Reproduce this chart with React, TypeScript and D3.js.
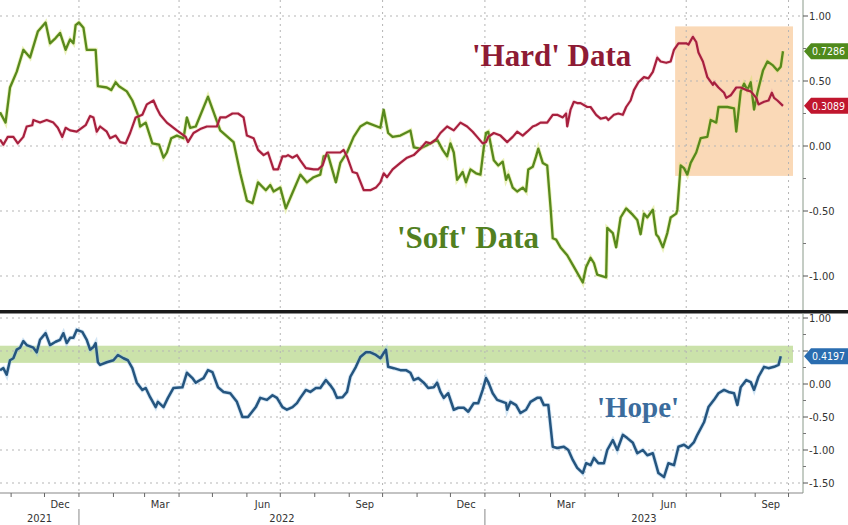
import React from "react";
import * as d3 from "d3";

// ---- data (day offset from 2021-10-22, value) ----
const startDate = new Date(2021, 9, 22);
const endDate = new Date(2023, 9, 14);

const softData: [number, number][] = [
  [0, 0.26], [5, 0.18], [9, 0.45], [15, 0.57], [21, 0.74], [27, 0.68], [34, 0.88], [41, 0.95],
  [45, 0.79], [50, 0.83], [54, 0.87], [59, 0.74], [63, 0.82], [66, 0.79], [68, 0.93], [71, 0.95],
  [75, 0.91], [78, 0.74], [86, 0.74], [88, 0.46], [96, 0.45], [100, 0.43], [104, 0.49], [107, 0.46],
  [114, 0.42], [119, 0.35], [124, 0.24], [126, 0.15], [131, 0.18], [137, 0.02], [143, 0.01], [147, -0.09],
  [150, -0.05], [154, 0.06], [159, 0.08], [165, 0.06], [168, 0.22], [171, 0.14], [176, 0.15], [187, 0.38],
  [198, 0.12], [210, 0.03], [216, -0.21], [222, -0.42], [227, -0.44], [232, -0.28], [239, -0.34], [243, -0.30],
  [246, -0.35], [252, -0.32], [257, -0.48], [263, -0.36], [270, -0.22], [276, -0.28], [282, -0.24], [288, -0.22],
  [291, -0.08], [295, -0.07], [302, -0.28], [306, -0.13], [312, -0.05], [318, 0.07], [324, 0.15], [330, 0.18],
  [342, 0.14], [345, 0.28], [349, 0.10], [353, 0.07], [360, 0.08], [369, 0.12], [372, -0.01], [378, -0.02],
  [387, 0.02], [393, 0.05], [398, -0.03], [402, -0.08], [405, 0.02], [408, -0.05], [411, -0.26], [416, -0.20],
  [419, -0.28], [423, -0.18], [428, -0.21], [432, -0.22], [435, -0.01], [437, 0.10], [439, 0.11], [444, -0.11],
  [448, -0.15], [452, -0.12], [455, -0.26], [457, -0.22], [461, -0.32], [465, -0.35], [470, -0.32], [473, -0.35],
  [475, -0.18], [479, -0.16], [482, -0.08], [484, -0.02], [488, -0.13], [492, -0.15], [495, -0.47], [497, -0.71],
  [500, -0.72], [504, -0.78], [510, -0.84], [516, -0.93], [524, -1.05], [527, -0.93], [531, -0.86], [534, -0.90],
  [537, -0.99], [545, -1.01], [546, -0.63], [551, -0.67], [554, -0.78], [558, -0.55], [563, -0.48], [569, -0.53],
  [573, -0.57], [576, -0.68], [579, -0.52], [582, -0.55], [587, -0.49], [590, -0.68], [592, -0.70], [596, -0.78],
  [600, -0.67], [603, -0.55], [608, -0.52], [609, -0.49], [612, -0.15], [615, -0.17], [618, -0.22], [621, -0.13],
  [626, -0.05], [630, 0.06], [636, 0.07], [639, 0.20], [644, 0.18], [646, 0.30], [654, 0.30], [660, 0.29],
  [662, 0.11], [666, 0.42], [669, 0.48], [672, 0.43], [675, 0.49], [678, 0.28], [681, 0.41], [686, 0.58],
  [690, 0.65], [695, 0.62], [699, 0.58], [702, 0.61], [704, 0.7286],
];

const hardData: [number, number][] = [
  [0, 0.05], [3, 0.01], [7, 0.07], [12, 0.07], [16, 0.02], [21, 0.07], [24, 0.15], [29, 0.16],
  [30, 0.20], [36, 0.18], [42, 0.20], [48, 0.18], [52, 0.14], [56, 0.07], [59, 0.14], [63, 0.12],
  [69, 0.11], [77, 0.16], [81, 0.23], [84, 0.22], [87, 0.11], [90, 0.15], [96, 0.11], [99, 0.06],
  [104, 0.08], [108, 0.03], [113, 0.02], [117, 0.10], [122, 0.22], [128, 0.24], [132, 0.32], [138, 0.35],
  [141, 0.29], [144, 0.24], [150, 0.18], [159, 0.12], [167, 0.07], [169, 0.03], [174, 0.10], [180, 0.13],
  [186, 0.15], [195, 0.15], [198, 0.22], [203, 0.22], [209, 0.25], [214, 0.25], [219, 0.22], [222, 0.08],
  [228, 0.06], [232, -0.03], [237, -0.07], [241, -0.05], [246, -0.18], [250, -0.18], [254, -0.08], [257, -0.08],
  [259, -0.07], [263, -0.09], [267, -0.07], [270, -0.11], [275, -0.17], [282, -0.18], [286, -0.18], [290, -0.15],
  [294, -0.05], [300, -0.05], [306, -0.05], [309, -0.03], [312, -0.08], [317, -0.20], [321, -0.21], [327, -0.34],
  [333, -0.34], [338, -0.32], [342, -0.28], [345, -0.21], [348, -0.24], [353, -0.18], [360, -0.13], [366, -0.09],
  [372, -0.07], [378, -0.02], [383, 0.03], [387, 0.02], [392, 0.05], [396, 0.10], [402, 0.15], [408, 0.12],
  [414, 0.18], [420, 0.15], [425, 0.11], [429, 0.07], [434, 0.02], [437, 0.03], [439, 0.07], [444, 0.10],
  [450, 0.08], [456, 0.03], [461, 0.07], [465, 0.11], [470, 0.08], [474, 0.11], [479, 0.15], [482, 0.16],
  [486, 0.18], [492, 0.18], [497, 0.24], [501, 0.24], [506, 0.22], [509, 0.25], [510, 0.15], [513, 0.28],
  [516, 0.34], [519, 0.33], [522, 0.33], [528, 0.30], [531, 0.30], [536, 0.24], [540, 0.21], [545, 0.22],
  [547, 0.20], [552, 0.24], [556, 0.25], [560, 0.24], [563, 0.30], [567, 0.35], [570, 0.43], [574, 0.49],
  [579, 0.53], [583, 0.52], [587, 0.57], [591, 0.68], [594, 0.65], [599, 0.64], [603, 0.65], [606, 0.74],
  [610, 0.79], [617, 0.79], [619, 0.78], [623, 0.84], [626, 0.80], [628, 0.72], [632, 0.65], [636, 0.53],
  [641, 0.47], [642, 0.49], [646, 0.45], [651, 0.41], [653, 0.37], [657, 0.39], [662, 0.45], [666, 0.45],
  [671, 0.43], [675, 0.42], [680, 0.37], [682, 0.32], [687, 0.34], [691, 0.35], [694, 0.41], [696, 0.37],
  [699, 0.35], [704, 0.3089],
];

const hopeData: [number, number][] = [
  [0, 0.21], [3, 0.24], [6, 0.14], [9, 0.36], [12, 0.39], [15, 0.52], [18, 0.55], [21, 0.65],
  [24, 0.59], [30, 0.55], [33, 0.48], [36, 0.67], [41, 0.77], [45, 0.59], [50, 0.64], [54, 0.67],
  [57, 0.77], [60, 0.62], [63, 0.70], [66, 0.70], [69, 0.82], [74, 0.79], [78, 0.67], [81, 0.52],
  [84, 0.56], [86, 0.62], [88, 0.33], [90, 0.29], [96, 0.33], [102, 0.36], [106, 0.44], [111, 0.39],
  [115, 0.36], [119, 0.24], [123, 0.02], [128, -0.09], [131, -0.06], [135, -0.20], [140, -0.35], [142, -0.27],
  [147, -0.35], [151, -0.21], [156, -0.06], [164, -0.05], [168, 0.17], [173, 0.09], [176, 0.02], [180, 0.06],
  [183, 0.09], [187, 0.21], [191, 0.18], [196, -0.05], [201, -0.12], [207, -0.14], [213, -0.27], [218, -0.50],
  [223, -0.50], [230, -0.35], [234, -0.21], [240, -0.24], [245, -0.17], [249, -0.21], [254, -0.35], [258, -0.39],
  [263, -0.35], [267, -0.29], [270, -0.21], [275, -0.09], [279, -0.12], [284, -0.06], [288, -0.06], [293, 0.06],
  [297, -0.02], [300, -0.09], [303, -0.21], [308, -0.20], [312, -0.12], [315, 0.11], [320, 0.26], [324, 0.41],
  [329, 0.48], [333, 0.48], [338, 0.44], [342, 0.39], [347, 0.52], [349, 0.26], [354, 0.24], [360, 0.21],
  [365, 0.21], [369, 0.17], [372, 0.06], [376, 0.09], [381, 0.02], [385, -0.06], [390, -0.05], [393, 0.02],
  [396, -0.12], [399, -0.21], [403, -0.14], [408, -0.39], [412, -0.36], [417, -0.36], [421, -0.42], [426, -0.29],
  [430, -0.29], [434, -0.09], [437, 0.09], [439, 0.03], [443, -0.14], [447, -0.24], [452, -0.27], [455, -0.29],
  [456, -0.39], [459, -0.27], [464, -0.32], [468, -0.44], [473, -0.39], [477, -0.27], [483, -0.21], [486, -0.21],
  [489, -0.32], [493, -0.32], [497, -0.95], [501, -0.97], [507, -0.95], [511, -1.00], [515, -1.15], [519, -1.27],
  [524, -1.35], [527, -1.20], [531, -1.23], [534, -1.12], [538, -1.20], [543, -1.20], [546, -1.00], [551, -0.85],
  [555, -1.00], [560, -0.77], [564, -0.82], [569, -0.89], [573, -1.05], [578, -1.00], [582, -1.08], [587, -1.05],
  [590, -1.23], [592, -1.35], [597, -1.41], [601, -1.20], [606, -1.23], [610, -0.95], [615, -0.92], [619, -0.97],
  [624, -0.88], [627, -0.77], [633, -0.58], [637, -0.35], [642, -0.24], [646, -0.14], [651, -0.09], [655, -0.12],
  [660, -0.14], [663, -0.32], [666, -0.05], [671, 0.06], [675, 0.03], [678, -0.09], [682, 0.11], [687, 0.26],
  [691, 0.24], [696, 0.26], [700, 0.29], [702, 0.4197],
];

const topTicks = [1, 0.5, 0, -0.5, -1];
const topMinor = [0.75, 0.25, -0.25, -0.75];
const botTicks = [1, 0.5, 0, -0.5, -1, -1.5];
const botTickLabels = [1, 0, -0.5, -1, -1.5];
const botMinor = [0.75, 0.25, -0.25, -0.75, -1.25];
const monthLabels = ["Dec", "Mar", "Jun", "Sep"];
const hopeBand: [number, number] = [0.32, 0.58];
const highlightBox = { from: new Date(2023, 5, 21), to: new Date(2023, 9, 5), top: 0.92, bottom: -0.23 };

const W = 848;
const H = 525;

export default function App() {
  const toDate = (d: number) => d3.timeDay.offset(startDate, d);
  const x = d3.scaleTime().domain([startDate, endDate]).range([0, 803]);
  const yTop = d3.scaleLinear().domain([-1, 1]).range([276, 16]);
  const yBot = d3.scaleLinear().domain([-1.5, 1]).range([483, 318]);

  const lineTop = d3
    .line<[number, number]>()
    .x((d) => x(toDate(d[0])))
    .y((d) => yTop(d[1]));
  const lineBot = d3
    .line<[number, number]>()
    .x((d) => x(toDate(d[0])))
    .y((d) => yBot(d[1]));

  const quarterStarts = d3.timeMonth
    .range(startDate, endDate)
    .filter((m) => m.getMonth() % 3 === 0);
  const monthStarts = d3.timeMonth.range(startDate, endDate);
  const labelMonths = d3.timeMonth
    .range(d3.timeMonth.floor(startDate), endDate)
    .filter((m) => monthLabels.includes(d3.timeFormat("%b")(m)));
  const yearStarts = d3.timeYear.range(startDate, endDate);
  const yearBounds = [startDate, ...yearStarts, endDate];

  const axisFont = "'DejaVu Sans Condensed', 'Liberation Sans Narrow', 'Arial Narrow', sans-serif";
  const serif = "'Liberation Serif', 'Times New Roman', serif";
  const gridStyle = { stroke: "#b5b5b5", strokeWidth: 1, strokeDasharray: "2,4" };

  const tag = (yc: number, color: string, text: string) => {
    const path = `M804,${yc} L811,${yc - 8} L848,${yc - 8} L848,${yc + 8} L811,${yc + 8} Z`;
    return (
      <g key={text}>
        <path d={path} fill={color} />
        <text x={812} y={yc + 3.8} fill="#fff" fontSize={10.5} fontFamily={axisFont}>
          {text}
        </text>
      </g>
    );
  };

  const softLast = softData[softData.length - 1][1];
  const hardLast = hardData[hardData.length - 1][1];
  const hopeLast = hopeData[hopeData.length - 1][1];

  return (
    <svg width={W} height={H} style={{ position: "absolute", left: 0, top: 0, background: "#fff" }}>
      <rect x={0} y={0} width={W} height={H} fill="#fff" />
      {/* highlight box */}
      <rect
        x={x(highlightBox.from)}
        y={yTop(highlightBox.top)}
        width={x(highlightBox.to) - x(highlightBox.from)}
        height={yTop(highlightBox.bottom) - yTop(highlightBox.top)}
        fill="#f9cfa5"
        opacity={0.8}
      />
      {/* hope band */}
      <rect
        x={0}
        y={yBot(hopeBand[1])}
        width={x(highlightBox.to) - 0}
        height={yBot(hopeBand[0]) - yBot(hopeBand[1])}
        fill="#b9d88e"
        opacity={0.75}
      />
      {/* gridlines top */}
      {topTicks.map((t) => (
        <line key={"gt" + t} x1={0} x2={800} y1={yTop(t)} y2={yTop(t)} style={gridStyle} />
      ))}
      {botTicks.map((t) => (
        <line key={"gb" + t} x1={0} x2={800} y1={yBot(t)} y2={yBot(t)} style={gridStyle} />
      ))}
      {quarterStarts.map((q) => (
        <g key={"q" + q.getTime()}>
          <line x1={x(q)} x2={x(q)} y1={0} y2={309} style={gridStyle} />
          <line x1={x(q)} x2={x(q)} y1={315} y2={492} style={gridStyle} />
        </g>
      ))}

      {/* series */}
      <path d={lineTop(softData) || ""} fill="none" stroke="#d4e36a" strokeWidth={4} opacity={0.45} />
      <path d={lineTop(softData) || ""} fill="none" stroke="#58891d" strokeWidth={2.3} strokeLinejoin="round" />
      <path d={lineTop(hardData) || ""} fill="none" stroke="#f0a0b0" strokeWidth={3.6} opacity={0.35} />
      <path d={lineTop(hardData) || ""} fill="none" stroke="#a7203e" strokeWidth={2.2} strokeLinejoin="round" />
      <path d={lineBot(hopeData) || ""} fill="none" stroke="#9cc6e6" strokeWidth={4.2} opacity={0.45} />
      <path d={lineBot(hopeData) || ""} fill="none" stroke="#25557f" strokeWidth={2.5} strokeLinejoin="round" />

      {/* annotations */}
      <text x={472} y={66} fontFamily={serif} fontWeight="bold" fontSize={31} fill="#8e1b35">
        'Hard' Data
      </text>
      <text x={397} y={248} fontFamily={serif} fontWeight="bold" fontSize={31} fill="#52801f">
        'Soft' Data
      </text>
      <text x={597} y={417} fontFamily={serif} fontWeight="bold" fontSize={29} fill="#3b6c9d">
        'Hope'
      </text>

      {/* panel separator */}
      <rect x={0} y={310} width={W} height={3.5} fill="#1a1a1a" />

      {/* right axes */}
      <line x1={803} x2={803} y1={0} y2={310} stroke="#8a9a8a" strokeWidth={1} />
      <line x1={803} x2={803} y1={313} y2={493} stroke="#8a9a8a" strokeWidth={1} />
      {topTicks.map((t) => (
        <g key={"tt" + t}>
          <line x1={803} x2={808} y1={yTop(t)} y2={yTop(t)} stroke="#555" />
          <text x={809} y={yTop(t) + 4} fontSize={11} fontFamily={axisFont} fill="#333">
            {d3.format(".2f")(t).replace("−", "-")}
          </text>
        </g>
      ))}
      {topMinor.map((t) => (
        <line key={"tm" + t} x1={803} x2={806} y1={yTop(t)} y2={yTop(t)} stroke="#777" />
      ))}
      {botTicks.map((t) => (
        <line key={"bt" + t} x1={803} x2={808} y1={yBot(t)} y2={yBot(t)} stroke="#555" />
      ))}
      {botMinor.map((t) => (
        <line key={"bm" + t} x1={803} x2={806} y1={yBot(t)} y2={yBot(t)} stroke="#777" />
      ))}
      {botTickLabels.map((t) => (
        <text key={"bl" + t} x={809} y={yBot(t) + 4} fontSize={11} fontFamily={axisFont} fill="#333">
          {d3.format(".2f")(t).replace("−", "-")}
        </text>
      ))}

      {/* value tags */}
      {tag(yTop(softLast), "#4f8a1c", d3.format(".4f")(softLast))}
      {tag(yTop(hardLast), "#c0162e", d3.format(".4f")(hardLast))}
      {tag(yBot(hopeLast), "#2a6db0", d3.format(".4f")(hopeLast))}

      {/* bottom axis */}
      <line x1={0} x2={803} y1={493} y2={493} stroke="#888" strokeWidth={1.2} />
      {monthStarts.map((m) => (
        <line key={"mt" + m.getTime()} x1={x(m)} x2={x(m)} y1={493} y2={497} stroke="#666" />
      ))}
      {labelMonths.map((m) => {
        const mid = d3.timeDay.offset(m, 14);
        return (
          <text
            key={"ml" + m.getTime()}
            x={x(mid)}
            y={508}
            textAnchor="middle"
            fontSize={11}
            fontFamily={axisFont}
            fill="#333"
          >
            {d3.timeFormat("%b")(m)}
          </text>
        );
      })}
      {yearStarts.map((y) => (
        <line key={"ys" + y.getTime()} x1={x(y)} x2={x(y)} y1={509} y2={525} stroke="#888" strokeWidth={1} />
      ))}
      {yearBounds.slice(0, -1).map((b, i) => {
        const e = yearBounds[i + 1];
        return (
          <text
            key={"yl" + i}
            x={(x(b) + x(e)) / 2}
            y={522}
            textAnchor="middle"
            fontSize={11}
            fontFamily={axisFont}
            fill="#333"
          >
            {d3.timeFormat("%Y")(b)}
          </text>
        );
      })}
    </svg>
  );
}
